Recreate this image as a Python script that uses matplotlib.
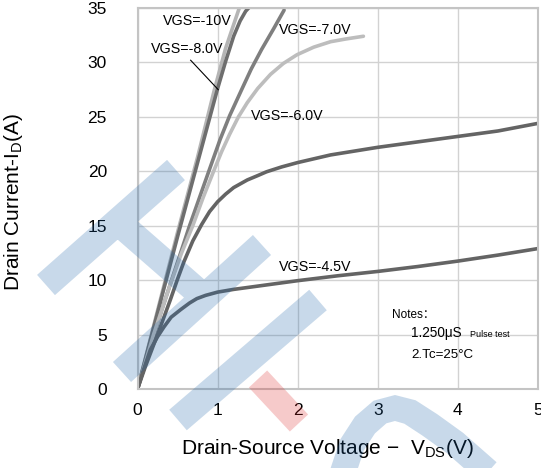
import numpy as np
import matplotlib.pyplot as plt
from matplotlib.path import Path
from matplotlib.patches import PathPatch

plt.rcParams['font.family'] = ['Liberation Sans', 'Noto Sans CJK SC', 'DejaVu Sans']
plt.rcParams['mathtext.fontset'] = 'custom'
plt.rcParams['mathtext.rm'] = 'Liberation Sans'

# curves: Vds (V), Id (A)
vds_10 = [0, 0.25, 0.5, 0.75, 0.96, 1.1, 1.28]
id_10 = [0, 7.2, 14.4, 21.3, 27.5, 31.3, 35.2]

vds_8 = [0, 0.25, 0.5, 0.75, 1.0, 1.1, 1.2, 1.28, 1.35, 1.4]
id_8 = [0, 7.0, 14.0, 20.8, 27.6, 30.1, 32.4, 33.8, 34.7, 35.1]

vds_7 = [0, 0.3, 0.65, 0.89, 1.03, 1.15, 1.3, 1.42, 1.55, 1.7, 1.83]
id_7 = [0, 7.2, 15.0, 20.0, 22.9, 25.1, 27.5, 29.4, 31.2, 33.1, 34.8]

vds_6 = [0, 0.2, 0.4, 0.55, 0.69, 0.82, 0.95, 1.05, 1.15, 1.26, 1.37, 1.5,
         1.66, 1.82, 1.99, 2.2, 2.41, 2.6, 2.82]
id_6 = [0, 5.0, 9.4, 12.5, 15.0, 17.6, 20.0, 21.8, 23.4, 25.0, 26.3, 27.6,
        28.9, 29.9, 30.7, 31.4, 31.9, 32.15, 32.4]

vds_5 = [0, 0.1, 0.25, 0.41, 0.5, 0.58, 0.69, 0.8, 0.9, 1.0, 1.1, 1.2, 1.37,
         1.5, 1.61, 1.8, 2.0, 2.41, 3.0, 3.5, 4.0, 4.5, 5.0]
id_5 = [0, 2.1, 5.0, 8.2, 10.1, 11.7, 13.6, 15.1, 16.3, 17.2, 17.9, 18.5, 19.2,
        19.6, 19.95, 20.4, 20.8, 21.5, 22.2, 22.7, 23.2, 23.7, 24.4]

vds_45 = [0, 0.05, 0.1, 0.16, 0.25, 0.33, 0.42, 0.54, 0.65, 0.74, 0.85, 1.0,
          1.2, 1.5, 2.0, 2.5, 3.0, 3.5, 4.0, 4.5, 5.0]
id_45 = [0, 1.2, 2.3, 3.6, 4.8, 5.7, 6.6, 7.3, 7.9, 8.3, 8.6, 8.9,
         9.15, 9.45, 9.95, 10.4, 10.8, 11.25, 11.75, 12.3, 12.9]

curves = [
    (vds_10, id_10, '#b5b5b5'),
    (vds_8, id_8, '#6e6e6e'),
    (vds_7, id_7, '#7f7f7f'),
    (vds_6, id_6, '#bdbdbd'),
    (vds_5, id_5, '#646464'),
    (vds_45, id_45, '#646464'),
]

# curve labels: text, left x, centre y
labels = [
    ('VGS=-10V', 0.32, 33.8),
    ('VGS=-8.0V', 0.165, 31.2),
    ('VGS=-7.0V', 1.76, 33.0),
    ('VGS=-6.0V', 1.42, 25.1),
    ('VGS=-4.5V', 1.76, 11.2),
]

fig = plt.figure(figsize=(5.41, 4.68), dpi=100)
ax = fig.add_axes([0.2542, 0.1688, 0.7403, 0.8142])

for x, y, c in curves:
    ax.plot(x, y, color=c, lw=2.6, solid_joinstyle='round', solid_capstyle='round')

for t, x, y in labels:
    ax.text(x, y, t, fontsize=10.3, va='center', ha='left')

ax.plot([0.663, 1.007], [30.2, 27.5], color='black', lw=0.8)

ax.text(3.18, 6.8, 'Notes：', fontsize=8.5, va='center')
ax.text(3.42, 5.15, '1.250μS', fontsize=9.8, va='center')
ax.text(4.15, 5.05, 'Pulse test', fontsize=6.5, va='center')
ax.text(3.42, 3.1, '2.Tc=25°C', fontsize=9.6, va='center')

ax.set_xlim(0, 5)
ax.set_ylim(0, 35)
ax.set_xticks(range(6))
ax.set_yticks(range(0, 36, 5))
ax.grid(True, color='#d2d2d2', lw=1)
ax.set_axisbelow(True)
for s in ax.spines.values():
    s.set_color('#c4c4c4')
    s.set_linewidth(1.5)
ax.tick_params(length=0, labelsize=12.5)
ax.tick_params(axis='y', pad=22)
ax.tick_params(axis='x', pad=10)

ax.set_xlabel(r'Drain-Source Voltage $-$  V$_\mathrm{DS}$(V)', fontsize=15)
ax.set_ylabel(r'Drain Current-I$_\mathrm{D}$(A)', fontsize=15)
ax.xaxis.set_label_coords(0.475, -0.125)
ax.yaxis.set_label_coords(-0.28, 0.49)

# watermark strokes in pixel coordinates: (x1, y1, x2, y2)
bars = [
    (46, 285, 176, 170),
    (118, 222, 197, 291),
    (122, 372, 262, 245),
    (178, 420, 318, 300),
]
arch = [(343, 472), (352, 445), (365, 425), (380, 412), (395, 408),
        (410, 412), (430, 425), (455, 443), (488, 472)]


def stroke_poly(pts, w):
    pts = np.asarray(pts, float)
    d = np.gradient(pts, axis=0)
    d /= np.linalg.norm(d, axis=1)[:, None]
    n = np.column_stack([-d[:, 1], d[:, 0]]) * w / 2
    return np.vstack([pts + n, (pts - n)[::-1]])


polys = [stroke_poly([(b[0], b[1]), (b[2], b[3])], 27) for b in bars]
polys.append(stroke_poly(arch, 26))

wm = fig.add_axes([0, 0, 1, 1], zorder=5)
wm.set_xlim(0, 541)
wm.set_ylim(468, 0)
wm.axis('off')
wm.patch.set_alpha(0)
verts, codes = [], []
for p in polys:
    verts.extend(p.tolist() + [p[0].tolist()])
    codes.extend([Path.MOVETO] + [Path.LINETO] * (len(p) - 1) + [Path.CLOSEPOLY])
wm.add_patch(PathPatch(Path(verts, codes), facecolor='#1a62a8', edgecolor='none', alpha=0.24))
pink = stroke_poly([(258, 379), (299, 423)], 25)
wm.add_patch(plt.Polygon(pink, facecolor='#dc2424', edgecolor='none', alpha=0.24))

fig.savefig('out.png', dpi=100)
